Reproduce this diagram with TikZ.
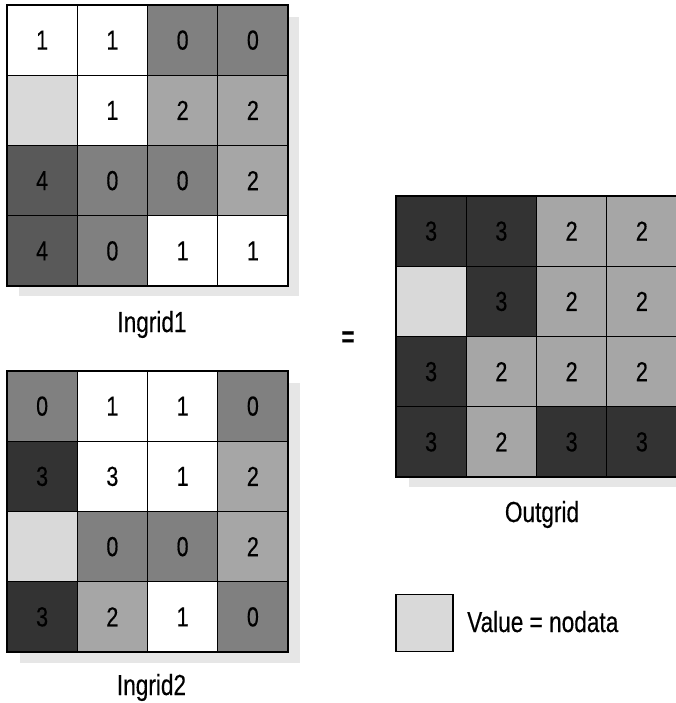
\documentclass[tikz,border=0pt]{standalone}
\usepackage{fontspec}
\setmainfont[FakeStretch=0.78,FakeBold=0.35]{Liberation Sans}
\begin{document}
\begin{tikzpicture}[x=1pt,y=-1pt,
  cell/.style={draw=black,line width=1.4pt,minimum size=70.25pt,inner sep=0pt,font=\fontsize{27.5}{27.5}\selectfont},
  c0/.style={cell,fill=gray0},
  c1/.style={cell,fill=white},
  c2/.style={cell,fill=gray2},
  c3/.style={cell,fill=gray3},
  c4/.style={cell,fill=gray4},
  nd/.style={cell,fill=graynd},
  shadow/.style={fill=grayshadow,draw=none},
  lbl/.style={font=\fontsize{29}{29}\selectfont,anchor=base,inner sep=0pt}]
\definecolor{gray0}{HTML}{808080}
\definecolor{gray2}{HTML}{A6A6A6}
\definecolor{gray3}{HTML}{333333}
\definecolor{gray4}{HTML}{595959}
\definecolor{graynd}{HTML}{D9D9D9}
\definecolor{grayshadow}{HTML}{E6E6E6}
\useasboundingbox (0,0) rectangle (676,703);
% shadows
\fill[shadow] (19,17) rectangle (299,296);
\fill[shadow] (20,383) rectangle (300,663);
\fill[shadow] (409,208) rectangle (690,487);
% Ingrid1
\foreach \s/\t [count=\k from 0] in {c1/1,c1/1,c0/0,c0/0, nd/{},c1/1,c2/2,c2/2, c4/4,c0/0,c0/0,c2/2, c4/4,c0/0,c1/1,c1/1}{
  \pgfmathtruncatemacro{\cc}{mod(\k,4)}
  \pgfmathtruncatemacro{\rr}{div(\k,4)}
  \node[\s] (a\k) at ({7+(\cc+0.5)*70.25},{5+(\rr+0.5)*70.25}) {\t};
}
% Ingrid2
\foreach \s/\t [count=\k from 0] in {c0/0,c1/1,c1/1,c0/0, c3/3,c1/3,c1/1,c2/2, nd/{},c0/0,c0/0,c2/2, c3/3,c2/2,c1/1,c0/0}{
  \pgfmathtruncatemacro{\cc}{mod(\k,4)}
  \pgfmathtruncatemacro{\rr}{div(\k,4)}
  \node[\s] (b\k) at ({7+(\cc+0.5)*70.25},{371+(\rr+0.5)*70.25}) {\t};
}
% Outgrid
\foreach \s/\t [count=\k from 0] in {c3/3,c3/3,c2/2,c2/2, nd/{},c3/3,c2/2,c2/2, c3/3,c2/2,c2/2,c2/2, c3/3,c2/2,c3/3,c3/3}{
  \pgfmathtruncatemacro{\cc}{mod(\k,4)}
  \pgfmathtruncatemacro{\rr}{div(\k,4)}
  \node[\s] (o\k) at ({396+(\cc+0.5)*70.25},{196+(\rr+0.5)*70.25}) {\t};
}
% labels
\node[lbl] (l1) at (152,332) {Ingrid1};
\node[lbl] (l2) at (151.5,695) {Ingrid2};
\node[lbl] (l3) at (542,522) {Outgrid};
\node[font=\fontsize{29}{29}\selectfont\bfseries,inner sep=0pt] (eq) at (348,339) {=};
% legend
\node[draw=black,line width=1.4pt,fill=graynd,minimum size=57pt,inner sep=0pt] (leg) at (424.5,623) {};
\node[lbl,anchor=base west] (legtxt) at (467,632) {Value = nodata};
\end{tikzpicture}
\end{document}
